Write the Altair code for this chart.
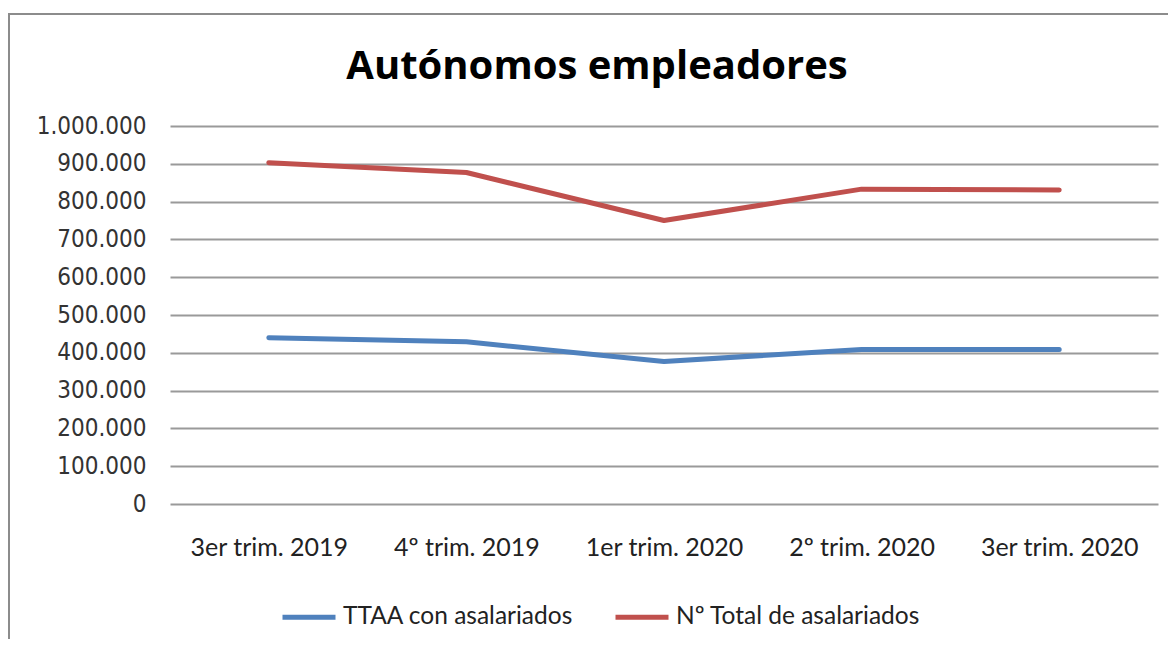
import altair as alt
import pandas as pd

chart_title = "Autónomos empleadores"
categories = ["3er trim. 2019", "4º trim. 2019", "1er trim. 2020", "2º trim. 2020", "3er trim. 2020"]
series_names = ["TTAA con asalariados", "Nº Total de asalariados"]
ttaa_values = [440000, 429000, 377000, 409000, 409000]
total_values = [903000, 877000, 750000, 833000, 831000]
y_ticks = [0, 100000, 200000, 300000, 400000, 500000, 600000, 700000, 800000, 900000, 1000000]
colors = ["#4F81BD", "#C0504D"]

rows = []
for name, vals in zip(series_names, [ttaa_values, total_values]):
    for c, v in zip(categories, vals):
        rows.append({"periodo": c, "serie": name, "valor": v})
df = pd.DataFrame(rows)

label_expr = "replace(format(datum.value, ',d'), /,/g, '.')"

lines = alt.Chart(df).mark_line(strokeWidth=5, strokeCap="round", strokeJoin="round").encode(
    x=alt.X("periodo:O", sort=categories, title=None,
            scale=alt.Scale(type="point", padding=0.5),
            axis=alt.Axis(labelAngle=0, ticks=False, tickSize=0, domain=False, grid=False,
                          labelFont="Lato", labelFontSize=25, labelColor="#222222",
                          labelPadding=31, labelBaseline="top")),
    y=alt.Y("valor:Q", title=None,
            scale=alt.Scale(domain=[0, 1000000], nice=False),
            axis=alt.Axis(values=y_ticks, labelExpr=label_expr, ticks=False, tickSize=0,
                          domain=False, grid=True, gridColor="#9a9a9a", gridWidth=2,
                          labelFont="DejaVu Sans Condensed", labelFontSize=24,
                          labelColor="#333333", labelPadding=24)),
    color=alt.Color("serie:N", scale=alt.Scale(domain=series_names, range=colors), title=None,
                    legend=alt.Legend(orient="none", legendX=110, legendY=462, direction="horizontal",
                                      symbolType="stroke", symbolSize=2809, symbolStrokeWidth=5,
                                      labelFont="Lato", labelFontSize=24.5, labelColor="#222222",
                                      labelOffset=5, columnPadding=31, labelLimit=400)),
    order=alt.Order("serie:N"),
)

frame = alt.Chart(pd.DataFrame({"a": [0]})).mark_rect(
    fill=None, stroke="#8c8c8c", strokeWidth=2, clip=False
).encode(
    x=alt.value(-161), x2=alt.value(1200), y=alt.value(-112), y2=alt.value(800)
)

title_text = alt.Chart(pd.DataFrame({"t": [chart_title]})).mark_text(
    font="Open Sans", fontSize=40, fontWeight="bold", color="#000000",
    align="center", baseline="alphabetic", clip=False
).encode(
    text="t:N", x=alt.value(427), y=alt.value(-47)
)

chart = alt.layer(frame, lines, title_text).properties(
    width=988, height=378,
    padding={"left": 162, "top": 118, "right": 10, "bottom": 135},
    autosize=alt.AutoSizeParams(type="none"),
).configure_view(stroke=None)

chart.save("out.html", embed_options={"renderer": "svg", "actions": False})
